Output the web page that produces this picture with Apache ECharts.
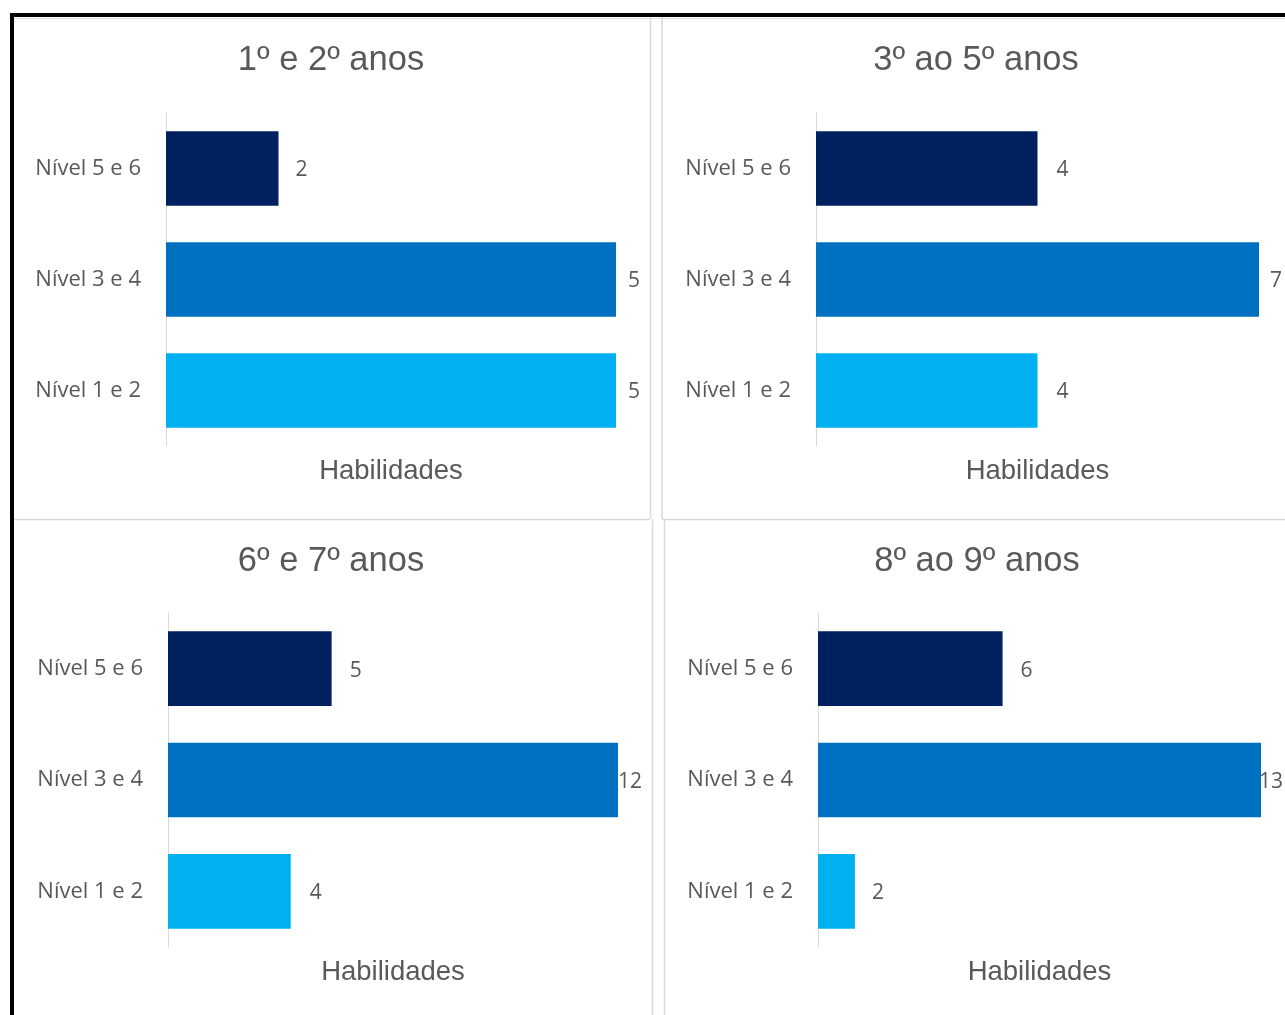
<!DOCTYPE html>
<html><head><meta charset="utf-8">
<style>html,body{margin:0;padding:0;background:#fff}#c{width:1285px;height:1015px}</style>
<script src="https://cdn.jsdelivr.net/npm/echarts@6/dist/echarts.min.js"></script>
</head><body><div id="c"></div>
<script>
// ---- data ----
const categories = ['Nível 5 e 6', 'Nível 3 e 4', 'Nível 1 e 2'];
const panelTitles = ['1º e 2º anos', '3º ao 5º anos', '6º e 7º anos', '8º ao 9º anos'];
const axisTitle = 'Habilidades';
const values1e2 = [2, 5, 5];
const values3a5 = [4, 7, 4];
const values6e7 = [5, 12, 4];
const values8a9 = [6, 13, 2];
const barColors = ['#002060', '#0070C0', '#00B0F0'];

// ---- layout (positions / styles only) ----
const panels = [
  {vals: values1e2, left: 166, width: 450, top: 113, height: 333, titleX: 331, titleY: 43, dist: [17, 12, 12]},
  {vals: values3a5, left: 816, width: 443, top: 113, height: 333, titleX: 976, titleY: 43, dist: [19, 11, 19]},
  {vals: values6e7, left: 168, width: 450, top: 613, height: 334, titleX: 331, titleY: 544, dist: [18, 0, 19]},
  {vals: values8a9, left: 818, width: 443, top: 613, height: 334, titleX: 977, titleY: 544, dist: [18, -2, 17]}
];
const grey = '#595959';
const labelFont = '"Open Sans", sans-serif';
const titleFont = '"Liberation Sans", Arial, sans-serif';

const option = {
  animation: false,
  backgroundColor: '#fff',
  title: panels.map((p, i) => ({
    text: panelTitles[i], left: p.titleX, top: p.titleY, textAlign: 'center', padding: 0,
    textStyle: {fontFamily: titleFont, fontSize: 34.5, fontWeight: 'normal', color: grey}
  })),
  grid: panels.map(p => ({left: p.left, top: p.top, width: p.width, height: p.height, containLabel: false})),
  xAxis: panels.map((p, i) => ({
    type: 'value', gridIndex: i, min: 1, max: Math.max(...p.vals),
    axisLine: {show: false}, axisTick: {show: false}, axisLabel: {show: false}, splitLine: {show: false},
    name: axisTitle, nameLocation: 'middle', nameGap: 11,
    nameTextStyle: {fontFamily: titleFont, fontSize: 27.5, color: grey, verticalAlign: 'top'}
  })),
  yAxis: panels.map((p, i) => ({
    type: 'category', gridIndex: i, data: categories, inverse: true,
    axisLine: {show: true, lineStyle: {color: '#d9d9d9', width: 1}},
    axisTick: {show: false},
    axisLabel: {fontFamily: labelFont, fontSize: 22, color: grey, margin: 25, padding: [2, 0, 0, 0]}
  })),
  series: panels.map((p, i) => ({
    type: 'bar', xAxisIndex: i, yAxisIndex: i, clip: true, barCategoryGap: '33%',
    data: p.vals.map((v, j) => ({
      value: v,
      itemStyle: {color: barColors[j]},
      label: {show: true, position: 'right', distance: p.dist[j], offset: [0, 2], fontFamily: labelFont, fontSize: 21, color: grey}
    }))
  })),
  graphic: [
    // light panel borders
    {type: 'line', shape: {x1: 650.5, y1: 17, x2: 650.5, y2: 519}, style: {stroke: '#d9d9d9', lineWidth: 1.5}},
    {type: 'line', shape: {x1: 14, y1: 519.5, x2: 650, y2: 519.5}, style: {stroke: '#d9d9d9', lineWidth: 1.5}},
    {type: 'line', shape: {x1: 662, y1: 17, x2: 662, y2: 519}, style: {stroke: '#d9d9d9', lineWidth: 1.5}},
    {type: 'line', shape: {x1: 662, y1: 519.5, x2: 1285, y2: 519.5}, style: {stroke: '#d9d9d9', lineWidth: 1.5}},
    {type: 'line', shape: {x1: 652.5, y1: 519, x2: 652.5, y2: 1015}, style: {stroke: '#d9d9d9', lineWidth: 1.5}},
    {type: 'line', shape: {x1: 664.5, y1: 519, x2: 664.5, y2: 1015}, style: {stroke: '#d9d9d9', lineWidth: 1.5}},
    {type: 'line', shape: {x1: 14, y1: 18.5, x2: 1285, y2: 18.5}, style: {stroke: '#d9d9d9', lineWidth: 1}},
    // black outer frame
    {type: 'rect', shape: {x: 10, y: 13, width: 1275, height: 4}, style: {fill: '#000'}},
    {type: 'rect', shape: {x: 10, y: 13, width: 4, height: 1002}, style: {fill: '#000'}}
  ]
};
echarts.init(document.getElementById('c'), null, {renderer: 'canvas'}).setOption(option);
</script></body></html>
